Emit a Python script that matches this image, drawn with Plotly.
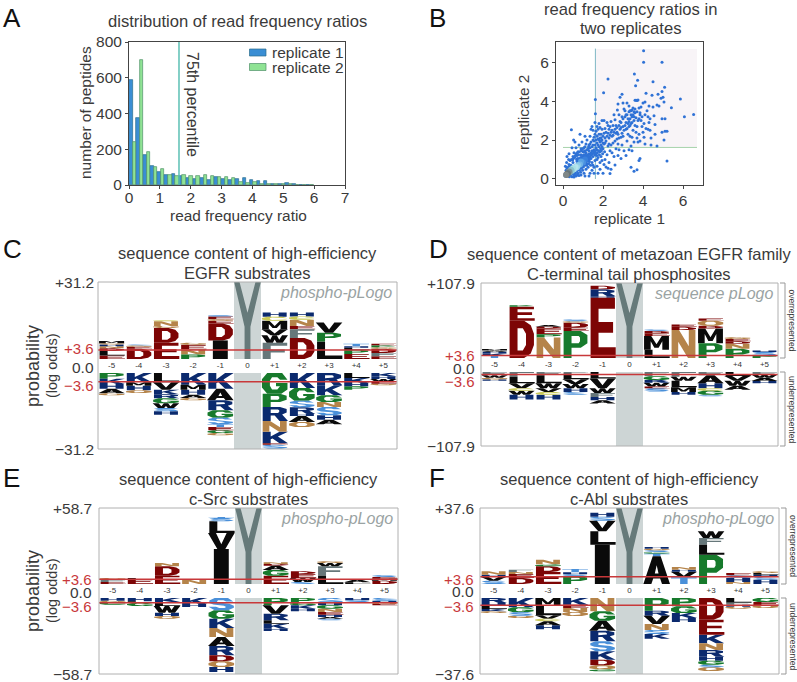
import plotly.graph_objects as go

W, H = 797, 682
FONT = "Liberation Sans"
INK = "#3a3a3a"
RED = "#c8383a"

# ---------- panel A data ----------
bin_width = 0.23
rep1_counts = [590,375,167,105,70,55,60,50,40,33,38,30,42,33,30,32,38,28,25,20,7,5,9,5,1,1]
rep2_counts = [243,698,185,103,92,57,50,58,48,48,58,48,45,42,37,18,12,15,8,8,6,8,4,2,1,1]
percentile_75 = 1.62
legend_names = ["replicate 1", "replicate 2"]

# ---------- panel B data (replicate 1, replicate 2) ----------
scatter_pts = [
(4.03,6.59),(4.03,6.0),(4.95,6.0),(2.25,5.14),(3.57,5.39),(3.73,5.07),(4.5,5.0),(3.63,4.79),(5.08,4.71),(4.95,4.49),
(2.03,4.43),(1.62,4.09),(5.87,4.11),(6.07,3.2),(6.53,3.32),(5.42,3.66),(5.2,0.92),(0.42,2.53),(0.53,2.0),(0.3,1.3),
(1.62,3.35),(1.6,2.9),(1.7,2.7),(1.75,2.55),(1.65,2.45),(1.8,2.85),(1.85,2.65),(1.9,2.3),(1.95,3.0),(2.05,3.0),
(2.1,2.6),(2.15,2.4),(2.0,2.2),(2.2,2.9),(2.25,2.35),(2.3,2.1),(2.35,2.7),(2.4,2.95),(2.45,2.5),(2.5,2.25),
(2.55,3.3),(2.6,3.05),(2.65,2.75),(2.7,2.4),(2.72,3.55),(2.75,3.85),(2.8,3.3),(2.85,2.95),(2.9,2.65),(2.95,2.35),
(2.85,4.2),(2.95,4.35),(3.0,3.9),(3.05,3.6),(3.1,3.2),(3.15,2.9),(3.2,2.6),(3.25,2.3),(3.3,3.45),(3.35,3.1),
(3.4,2.85),(3.45,3.55),(3.5,3.3),(3.55,3.0),(3.6,2.75),(3.65,2.4),(3.7,2.1),(3.75,1.9),(3.2,3.9),(3.3,3.75),
(3.4,3.5),(3.5,3.65),(3.6,4.05),(3.65,4.05),(3.7,4.03),(3.75,4.06),(3.8,3.65),(3.85,3.3),(3.9,3.0),(3.95,2.7),
(4.0,2.4),(4.05,2.15),(4.0,3.9),(4.1,3.95),(4.15,4.4),(4.2,3.5),(4.25,3.2),(4.3,2.9),(4.35,2.5),(4.4,2.1),
(4.45,4.3),(4.5,3.7),(4.55,3.25),(4.6,2.8),(4.7,3.8),(4.75,4.35),(4.8,3.75),(4.9,4.15),(5.0,4.2),(5.05,3.95),
(4.95,3.1),(5.1,3.1),(5.2,2.45),(5.1,2.45),(4.95,2.4),(5.05,2.0),(4.7,1.7),(4.6,2.3),(4.3,3.75),(4.1,3.3),
(3.9,3.7),(3.8,2.3),(3.7,2.7),(3.6,3.4),(3.55,3.2),(3.45,3.2),(3.4,3.3),(3.35,3.5),(3.3,2.95),(3.25,3.1),
(3.15,3.3),(3.1,2.75),(3.05,2.5),(3.0,3.1),(2.95,3.2),(2.9,2.9),(2.85,2.55),(2.8,2.75),(2.75,2.3),(2.7,2.65),
(2.65,2.35),(2.6,2.55),(2.55,2.4),(2.5,2.75),(2.45,2.2),(2.4,2.4),(2.35,2.25),(2.3,2.55),(2.25,2.75),(2.2,2.2),
(2.15,1.95),(2.1,2.1),(2.05,2.35),(2.0,1.85),(1.95,2.55),(1.9,2.1),(1.85,1.9),(1.8,2.3),(1.75,2.05),(1.7,1.85),
(2.25,1.7),(2.5,1.85),(2.75,1.8),(2.95,1.75),(3.2,1.95),(3.4,1.7),(3.55,1.9),(3.85,1.95),(4.1,1.8),(4.4,1.75),
(2.65,1.55),(2.8,1.5),(3.05,1.45),(3.3,1.5),(3.45,1.45),(2.45,1.35),(2.55,1.15),(2.75,1.2),(2.9,1.05),(3.15,1.2),
(3.85,1.05),(3.8,0.95),(3.4,0.6),(3.55,0.4),(3.7,0.48),(2.6,0.72),(2.4,0.5),(2.35,0.28),(2.0,0.3),(2.3,0.85),
(2.1,1.0),(2.2,1.25),(2.05,0.75),(2.25,0.55),(1.85,0.5),(1.95,0.95),(2.15,0.62),(1.75,0.3),(1.9,1.15),(2.35,1.45),
(1.55,0.3),(1.7,0.65),(1.6,0.95),(1.75,1.1),(1.65,1.3),(1.85,1.4),(1.95,1.65),(1.55,0.6),(1.45,0.45),(1.35,0.3),
(1.5,1.15),(1.45,1.45),(1.55,1.5),(1.6,1.75),(1.65,2.0),(1.55,2.15),(1.5,2.5),(1.45,2.7),(1.4,2.55),(1.35,2.2),
(1.4,1.9),(1.3,1.75),(1.25,1.55),(1.2,2.0),(1.15,1.8),(1.1,2.2),(1.05,1.6),(1.0,1.4),(0.95,1.9),(0.85,2.3),
(0.9,1.55),(0.8,1.75),(0.75,1.4),(0.7,1.2),(0.65,1.6),(0.6,1.9),(0.55,1.35),(0.5,1.15),(0.45,1.6),(0.35,0.95),
(0.2,1.15),(0.12,0.65),(0.18,0.85),(0.28,1.0),(1.2,1.2),(1.25,0.95),(1.3,1.3),(1.35,1.1),(1.4,1.35),(1.45,0.85),
(1.5,1.75),(1.55,1.95),(1.6,1.25),(1.35,1.6),(1.15,1.35),(1.1,1.05),(1.05,0.85),(1.0,1.15),(0.95,0.75),(0.9,1.25),
(0.85,0.55),(0.8,1.05),(0.75,0.3),(0.7,0.9),(0.65,0.15),(0.6,0.35),(0.55,0.1),(0.5,0.25),(0.9,0.2),(1.05,0.3),
(1.15,0.5),(1.25,0.6),(1.3,0.15),(1.1,0.15),(0.98,0.45),(1.2,0.8),(1.4,1.05),(1.5,0.7),(1.7,1.5),(1.8,1.65),
(1.65,1.6),(1.75,1.75),(1.9,1.75),(2.0,1.55),(1.85,2.1),(1.95,2.0),(2.05,1.8),(1.45,1.65),(1.3,1.45),(1.25,1.25),
(1.1,1.45),(1.05,1.25),(0.95,1.05),(0.85,0.95),(0.8,0.75),(0.7,0.65),(0.6,0.7),(0.5,0.85),(0.4,0.7),(0.3,0.75),
(1.15,1.05),(1.0,0.95),(0.9,0.9),(1.35,1.8),(1.5,2.0),(1.6,2.3),(1.7,2.2),(1.8,2.0),(1.9,1.95),(2.1,1.85),
(3.65,3.15),(3.75,3.0),(3.85,3.4),(3.95,3.2),(4.05,2.85),(4.15,2.6),(4.25,2.55),(4.35,3.1),(3.3,2.7),(3.2,3.3),
(3.1,3.5),(3.0,2.7),(3.0,2.2),(2.9,2.15),(2.8,2.1),(2.7,2.05),(2.6,1.95),(2.4,1.75),(2.3,1.8),(3.5,2.5),
(3.45,2.15),(3.35,2.2),(3.6,3.6),(3.7,3.45),(3.8,3.1),(3.55,3.45),(3.45,2.9),(3.35,2.75),(3.25,2.85),(3.15,2.55),
(0.95,1.2),(1.02,1.05),(1.08,1.15),(1.12,1.25),(1.18,0.95),(1.22,1.1),(1.28,1.15),(1.32,0.9),(1.38,1.2),(1.42,1.25),
(1.48,1.3),(1.52,1.4),(1.58,1.35),(1.62,1.45),(1.68,1.2),(1.72,1.35),(1.78,1.45),(1.82,1.25),(1.88,1.55),(1.92,1.45),
(0.75,0.95),(0.72,1.05),(0.68,1.0),(0.78,0.6),(0.82,0.45),(0.88,0.35),(0.92,0.55),(0.97,0.65),(1.02,0.62),(1.08,0.7),
(1.12,0.85),(1.18,0.7),(1.28,0.78),(1.38,0.7),(0.42,1.0),(0.48,0.98),(0.52,1.05),(0.58,1.1),(0.62,1.2),(0.66,1.3),
(0.72,1.35),(0.78,1.25),(0.82,1.4),(0.88,1.1),(0.92,1.45),(0.98,1.55),(1.04,1.4),(1.1,1.65),(1.2,1.5),(1.28,1.65),
(0.22,0.55),(0.25,0.4),(0.15,0.45),(0.12,0.3),(0.1,0.15),(0.32,0.12),(0.38,0.2),(0.45,0.12),(0.55,0.22),(0.62,0.28),
(0.68,0.4),(0.72,0.2),(0.8,0.18),(0.35,0.6),(0.28,0.62),(0.18,0.6),(1.7,1.0),(1.85,0.85),(1.98,1.3),(2.08,1.4),
]
core_x = [1.25,1.1,1.0,0.9,0.85,0.75,0.7,0.62,0.55,0.5,0.45,0.4,0.35,0.3,0.25,0.22,0.18,0.15]
core_y = [1.05,1.0,0.85,0.9,0.75,0.7,0.6,0.62,0.5,0.55,0.42,0.48,0.35,0.38,0.28,0.3,0.2,0.22]
core_c = ["#2f72d6","#3a80dc","#4a90e0","#5aa2e4","#74b6e8","#8ccbe8","#9fd8ea","#b4e4ee","#b4e4ea","#a8dfe4","#9ad2d8","#8cc4cc","#84acb4","#788f96","#6a7c80","#667478","#70787a","#808888"]
threshold = 1.62

# ---------- logo panels: "letter+height", height in 1/228 of the half-axis ----------
positions = [-5,-4,-3,-2,-1,0,1,2,3,4,5]
pos_labels = ["-5","-4","-3","-2","-1","0","+1","+2","+3","+4","+5"]

C_up = ["E10 L14 D8 N6 H5 Q4 M6","D30 E6 Q4 S3","E48 D44 Q6 N14 C3","P13 N15 E14 Q6","I55 D50 E8 Q5 E8 S4","",
        "F48 W22 V18 M25 C12 H13","D62 F26 E10 N18 C10 H12","L52 P26 V30","E15 P12 L6 H5 T7","E8 F10 D12 Q5 P5 E5"]
C_dn = ["P17 K16 H14 A14 Q6","K28 M10 H14 Q8","L28 V22 K14 R12 G15 W14 S10 H10","K35 M15 H15 A10 Q7",
        "K47 A35 R30 G22 S20 T8 E10 G8 Q7","","G62 P40 R42 N32 K35 E4 S12","K45 G38 S20 R20 H6 A18 Q15",
        "R37 K30 G20 N15 S25 H13 A14","L15 K15 H10 P10","K10 H8 W8 E6 Q5"]
D_up = ["T8 K6 H5 A4 M4","D113 E43 P4","N62 P10 E18 D5 A5","P82 E10 D15 Q5 S5","E183 H5 R20 D12","",
        "L25 M42 E8 D7 S5","N85 D10 E7","P45 M45 D8 Q15 E7","P28 N15 D8 E7 Q5","P8 S10 H5"]
D_dn = ["F10 W8 Q5 H4","F15 L20 V15 C8 W12 H15","F10 L25 W15 V12 C8 H15","F5 L17 V15 W13 H12 S8",
        "L20 V30 W15 F12 H10 A10","","F13 G12 R8 W12 E5 S10","F15 W12 L20 M15 H8","F10 A25 H15 C8 G12 S5",
        "L12 V15 W15 A13","F8 W10 A10 H7"]
E_up = ["E6 F6 Q6","E14 L4","E25 D28 N10","N13","I105 V48 L35 S10 T3","","E25 G17 A13 D5 N5","S6 W12 E12 D8",
        "L25 F28 W10 Q5","L5 A8","D10 M6 E5 S5"]
E_dn = ["H8 Q5 G7","H10 L5 G9","K12 L12 W20 H10 Q8","K18 H9","S37 G25 K28 N27 A27 R28 D18 Q17 H15","",
        "P22 V25 R20 L10 K15 H7","P14 G8 K10 H8","S14 H8 G10 N10 E8 H7 A5 S5","H7 S5","S8 H6 N4 E4"]
F_up = ["S10 V12 H6 N10","D18 E12 N6 F7","E36 D17 G6 N14","P23 S6 H6 T10","I118 L40 V32 S12 H12","",
        "A83 T8 G5 S5 Q5 H5","T20 V17 H6 N8","P88 L30 F20 W20","N6 H12 S8 E7","H13 S8 H7 L5 Q5"]
F_dn = ["R15 H8 L10 K7 Q5","K28 G15 S10 Q7","M22 L30 V10 C8 A12 H12","K20 E10 N12 Q12",
        "N40 G28 A30 R32 S30 K25 D17 Q12 G6","","P38 R15 V25 N18 S12 K14","P25 G20 K15 H12",
        "D65 E45 K26 N20 R20 H12 G12 S8 Q11","L14 F6 H6 Q6","G12 E10 Q8"]

HALF = 228.0
threshold_logo = 3.6

PALETTE = {"K":"#0b2a6e","R":"#0b2a6e","H":"#0b2a6e","D":"#7d0505","E":"#7d0505","P":"#177a2c","G":"#177a2c",
           "N":"#b5844a","Q":"#b5844a","S":"#4a90d9","T":"#4a90d9","A":"#0a0a0a","V":"#0a0a0a","L":"#0a0a0a",
           "I":"#0a0a0a","M":"#0a0a0a","W":"#0a0a0a","F":"#66777a","C":"#c9c957","Y":"#667a7a"}

# letter outlines in a unit box; holes wound the opposite way
GLYPHS = {
 "I":[[(.22,0),(.22,1),(.78,1),(.78,0)]],
 "L":[[(.05,0),(.05,1),(.35,1),(.35,.2),(1,.2),(1,0)]],
 "E":[[(.05,0),(.05,1),(.97,1),(.97,.82),(.35,.82),(.35,.6),(.9,.6),(.9,.42),(.35,.42),(.35,.18),(1,.18),(1,0)]],
 "F":[[(.05,0),(.05,1),(.97,1),(.97,.82),(.35,.82),(.35,.58),(.88,.58),(.88,.4),(.35,.4),(.35,0)]],
 "T":[[(.36,0),(.36,.82),(.02,.82),(.02,1),(.98,1),(.98,.82),(.64,.82),(.64,0)]],
 "H":[[(.05,0),(.05,1),(.35,1),(.35,.6),(.65,.6),(.65,1),(.95,1),(.95,0),(.65,0),(.65,.41),(.35,.41),(.35,0)]],
 "K":[[(.05,0),(.05,1),(.35,1),(.35,.58),(.68,1),(1,1),(.62,.58),(1,0),(.68,0),(.42,.42),(.35,.34),(.35,0)]],
 "M":[[(.03,0),(.03,1),(.3,1),(.5,.4),(.7,1),(.97,1),(.97,0),(.72,0),(.72,.62),(.58,.15),(.42,.15),(.28,.62),(.28,0)]],
 "N":[[(.05,0),(.05,1),(.33,1),(.7,.42),(.7,1),(.95,1),(.95,0),(.67,0),(.3,.58),(.3,0)]],
 "V":[[(0,1),(.3,1),(.5,.3),(.7,1),(1,1),(.65,0),(.35,0)]],
 "W":[[(0,1),(.22,1),(.33,.4),(.42,1),(.58,1),(.67,.4),(.78,1),(1,1),(.8,0),(.57,0),(.5,.45),(.43,0),(.2,0)]],
 "Y":[[(.39,0),(.39,.42),(0,1),(.2,1),(.5,.6),(.8,1),(1,1),(.61,.42),(.61,0)]],
 "A":[[(0,0),(.35,1),(.65,1),(1,0),(.7,0),(.63,.2),(.37,.2),(.3,0)],[(.43,.38),(.57,.38),(.5,.68)]],
 "P":[[(.05,0),(.05,1),(.7,1),(.95,.85),(.95,.55),(.7,.38),(.35,.38),(.35,0)],
      [(.35,.55),(.62,.55),(.67,.62),(.67,.76),(.62,.82),(.35,.82)]],
 "R":[[(.05,0),(.05,1),(.7,1),(.95,.85),(.95,.6),(.78,.47),(1,0),(.68,0),(.5,.4),(.35,.4),(.35,0)],
      [(.35,.58),(.62,.58),(.67,.64),(.67,.76),(.62,.82),(.35,.82)]],
 "D":[[(.05,0),(.05,1),(.6,1),(.85,.88),(.97,.65),(.97,.35),(.85,.12),(.6,0)],
      [(.35,.2),(.55,.2),(.67,.35),(.67,.65),(.55,.8),(.35,.8)]],
 "Q":[[(.02,.3),(.02,.7),(.25,1),(.75,1),(.98,.7),(.98,.3),(.75,0),(.25,0)],
      [(.38,.2),(.62,.2),(.7,.38),(.7,.62),(.62,.8),(.38,.8),(.3,.62),(.3,.38)]],
 "C":[[(.98,.35),(.7,.33),(.6,.2),(.4,.2),(.32,.38),(.32,.62),(.4,.8),(.6,.8),(.7,.67),(.98,.65),(.78,1),(.22,1),(.02,.7),(.02,.3),(.22,0),(.78,0)]],
 "G":[[(.98,.52),(.55,.52),(.55,.36),(.7,.36),(.6,.2),(.4,.2),(.32,.38),(.32,.62),(.4,.8),(.6,.8),(.7,.67),(.98,.67),(.78,1),(.22,1),(.02,.7),(.02,.3),(.22,0),(.75,0),(.98,.2)]],
 "S":[[(.02,.3),(.3,.3),(.42,.18),(.62,.18),(.68,.28),(.6,.37),(.2,.47),(.05,.6),(.05,.8),(.25,1),(.75,1),(.95,.72),(.68,.72),(.58,.82),(.38,.82),(.33,.72),(.4,.63),(.8,.53),(.97,.38),(.97,.2),(.75,0),(.25,0)]],
}

fig = go.Figure()
annots, shapes, layout = [], [], {}

def txt(px, py, text, size, color=INK, anchor="center", angle=0):
    annots.append(dict(x=px/W, y=1-py/H, xref="paper", yref="paper", text=text, showarrow=False,
                       xanchor=anchor, yanchor="middle", textangle=angle,
                       font=dict(family=FONT, size=size, color=color)))

def dom_x(a, b): return [a/W, b/W]
def dom_y(top, bot): return [1-bot/H, 1-top/H]

BLUE, BLUE_EDGE, GREEN, GREEN_EDGE = "#3a8ed4", "#2b6f8c", "#8fe394", "#4f9068"

# ---------- panel A ----------
x_bins = [bin_width*(i+0.5) for i in range(len(rep1_counts))]
fig.add_bar(x=x_bins, y=rep1_counts, name=legend_names[0], xaxis="x", yaxis="y", showlegend=False,
            marker=dict(color=BLUE, line=dict(color=BLUE_EDGE, width=0.7)))
fig.add_bar(x=x_bins, y=rep2_counts, name=legend_names[1], xaxis="x", yaxis="y", showlegend=False,
            marker=dict(color=GREEN, line=dict(color=GREEN_EDGE, width=0.7)))
fig.add_scatter(x=[percentile_75]*2, y=[0,800], mode="lines", xaxis="x", yaxis="y", showlegend=False,
                line=dict(color="#5cc0b4", width=1.5))
axis_common = dict(showgrid=False, zeroline=False, showline=True, mirror=True, linecolor="#444", linewidth=1,
                   ticks="outside", ticklen=3, tickcolor="#444",
                   tickfont=dict(family=FONT, size=15.5, color=INK))
layout["xaxis"] = dict(domain=dom_x(129,345), range=[0,7], tickvals=list(range(8)), anchor="y",
                       ticklabelstandoff=-5, **axis_common)
layout["yaxis"] = dict(domain=dom_y(42,185), range=[0,800], tickvals=[0,200,400,600,800], anchor="x", **axis_common)
txt(237.5, 22, "distribution of read frequency ratios", 16.6)
txt(238, 216, "read frequency ratio", 15.4)
txt(86, 113, "number of peptides", 15.5, angle=-90)
txt(192, 104, "75th percentile", 16, angle=90)
for name, color, edge, ypx in ((legend_names[0], BLUE, BLUE_EDGE, 52.5), (legend_names[1], GREEN, GREEN_EDGE, 67)):
    shapes.append(dict(type="rect", xref="paper", yref="paper", x0=249.5/W, x1=266/W, y0=1-(ypx+3.5)/H, y1=1-(ypx-3.5)/H,
                       fillcolor=color, line=dict(color=edge, width=0.7), layer="above"))
    txt(270, ypx, name, 15.5, anchor="left")

# ---------- panel B ----------
fig.add_bar(x=[(threshold+6.7)/2], y=[6.7-threshold], base=[threshold], width=[6.7-threshold], xaxis="x2", yaxis="y2",
            showlegend=False, marker=dict(color="#f8f4f7", line=dict(width=0)))
fig.add_scatter(x=[threshold]*2, y=[0,6.7], mode="lines", xaxis="x2", yaxis="y2", showlegend=False,
                line=dict(color="#7fb8c4", width=1))
fig.add_scatter(x=[0,6.7], y=[threshold]*2, mode="lines", xaxis="x2", yaxis="y2", showlegend=False,
                line=dict(color="#a6d3ac", width=1))
fig.add_scatter(x=[p[0] for p in scatter_pts], y=[p[1] for p in scatter_pts], mode="markers", xaxis="x2", yaxis="y2",
                showlegend=False, marker=dict(color="#2f72d6", size=3))
fig.add_scatter(x=core_x, y=core_y, mode="markers", xaxis="x2", yaxis="y2", showlegend=False,
                marker=dict(color=core_c, size=6, line=dict(width=0)))
layout["xaxis2"] = dict(domain=dom_x(556,703), range=[-0.35,7], tickvals=[0,2,4,6], anchor="y2",
                        ticklabelstandoff=-2, **axis_common)
layout["yaxis2"] = dict(domain=dom_y(42,185), range=[-0.31,7.04], tickvals=[0,2,4,6], anchor="x2", **axis_common)
txt(630, 10, "read frequency ratios in", 16.6)
txt(630, 29, "two replicates", 16.6)
txt(629, 219, "replicate 1", 15.4)
txt(524, 113, "reptlicate 2", 15.4, angle=-90)

# ---------- logo panels ----------
def logo(idx, up, dn, ymax, box, base_top, base_bot, title1, title2, tag, ylabel, side, label_right, label_ys):
    left, top, right, bottom = box
    xa, yu, yd = f"x{idx}", f"y{idx}", f"y{idx+1}"
    xk, yuk, ydk = f"xaxis{idx}", f"yaxis{idx}", f"yaxis{idx+1}"
    layout[xk] = dict(domain=dom_x(left,right), range=[-5.5,5.5], anchor=yu, showgrid=False, zeroline=False,
                      showline=False, tickvals=positions, ticktext=pos_labels, ticks="",
                      tickfont=dict(family=FONT, size=8, color="#333"))
    layout[yuk] = dict(domain=dom_y(top,base_top), range=[0,ymax], anchor=xa, visible=False)
    layout[ydk] = dict(domain=dom_y(base_bot,bottom), range=[-ymax,0], anchor=xa, visible=False)
    for yname, val in ((yu, ymax), (yd, -ymax)):
        fig.add_bar(x=[0], y=[val], width=[1], xaxis=xa, yaxis=yname, showlegend=False,
                    marker=dict(color="#cdd5d5", line=dict(width=0)))
    for yname, stacks, sign in ((yu, up, 1), (yd, dn, -1)):
        paths = {}
        for pos, stack in zip(positions, stacks):
            cum = 0.0
            for item in stack.split():
                letter, h = item[0], float(item[1:])*ymax/HALF
                y0, y1 = (cum, cum+h) if sign > 0 else (-cum-h, -cum)
                xs, ys = paths.setdefault(letter, ([], []))
                for poly in GLYPHS[letter]:
                    for gx, gy in poly:
                        xs.append(pos-0.49+0.98*gx)
                        ys.append(y0+(y1-y0)*gy)
                    xs.append(None); ys.append(None)
                cum += h
        if sign > 0:
            xs, ys = paths.setdefault("Y", ([], []))
            for gx, gy in GLYPHS["Y"][0]:
                xs.append(-0.49+0.98*gx); ys.append(ymax*gy)
            xs.append(None); ys.append(None)
        for letter, (xs, ys) in paths.items():
            fig.add_scatter(x=xs, y=ys, mode="lines", fill="toself", fillcolor=PALETTE[letter], name=letter,
                            line=dict(width=0), xaxis=xa, yaxis=yname, showlegend=False, hoverinfo="name")
        lv = threshold_logo*sign
        fig.add_scatter(x=[-5.5,5.5], y=[lv,lv], mode="lines", xaxis=xa, yaxis=yname, showlegend=False,
                        line=dict(color=RED, width=1.5), cliponaxis=False)
    shapes.append(dict(type="rect", xref="paper", yref="paper", x0=left/W, x1=right/W, y0=1-bottom/H, y1=1-top/H,
                       line=dict(color="#b0b0b0", width=1), layer="above"))
    cx = (left+right)/2 - 0.5
    txt(cx, top-29, title1, 16.5)
    txt(cx, top-9, title2, 16.5)
    txt(right-3, top+10, f"<i>{tag}</i>", 16, color="#9aa3a3", anchor="right")
    y_plus, y_zero, y_minus = label_ys
    txt(label_right, top, f"+{ymax}", 15.5, anchor="right")
    txt(label_right, y_plus, "+3.6", 15, color=RED, anchor="right")
    txt(label_right, y_zero, "0.0", 15.5, anchor="right")
    txt(label_right, y_minus, "\u22123.6", 15, color=RED, anchor="right")
    txt(label_right, bottom, f"\u2212{ymax}", 15.5, anchor="right")
    if ylabel:
        mid = (base_top+base_bot)/2
        txt(33, mid, "probability", 18, angle=-90)
        txt(52, mid, "(log odds)", 14.5, angle=-90)
    if side:
        x0 = right+2; x1 = right+7
        for a, b, word in ((top, base_top, "overrepresented"), (base_bot, bottom, "underrepresented")):
            shapes.append(dict(type="path", xref="paper", yref="paper", layer="above",
                               path=f"M {x0/W} {1-a/H} L {x1/W} {1-a/H} L {x1/W} {1-b/H} L {x0/W} {1-b/H}",
                               line=dict(color="#999", width=1)))
            txt(x1+7, (a+b)/2, word, 8.5, angle=90)

logo(3,  C_up, C_dn, 31.2,  (98,282,397,449), 359, 373, "sequence content of high-efficiency", "EGFR substrates", "phospho-pLogo", True, False, 96, (348,367,385))
logo(5,  D_up, D_dn, 107.9, (481,283,778,446), 358, 372, "sequence content of metazoan EGFR family", "C-terminal tail phosphosites", "sequence pLogo", False, True, 477, (355,368,382))
logo(7,  E_up, E_dn, 58.7,  (99,508,398,674), 584, 598, "sequence content of high-efficiency", "c-Src substrates", "phospho-pLogo", True, False, 94, (579,592,606))
logo(9,  F_up, F_dn, 37.6,  (480,508,779,674), 584, 598, "sequence content of high-efficiency", "c-Abl substrates", "phospho-pLogo", False, True, 476, (579,591,606))

for letter, px, py in (("A",1,18),("B",427,18),("C",1,249),("D",427,249),("E",1,478),("F",427,478)):
    txt(px, py, letter, 26, color="#111", anchor="left")

fig.update_layout(width=W, height=H, margin=dict(l=0,r=0,t=0,b=0,pad=0,autoexpand=False), paper_bgcolor="white", plot_bgcolor="white",
                  barmode="group", bargap=0, bargroupgap=0, annotations=annots, shapes=shapes, showlegend=False,
                  **layout)
fig.write_html("out.html", config={"displayModeBar": False}, post_script="document.body.style.margin='0';")
